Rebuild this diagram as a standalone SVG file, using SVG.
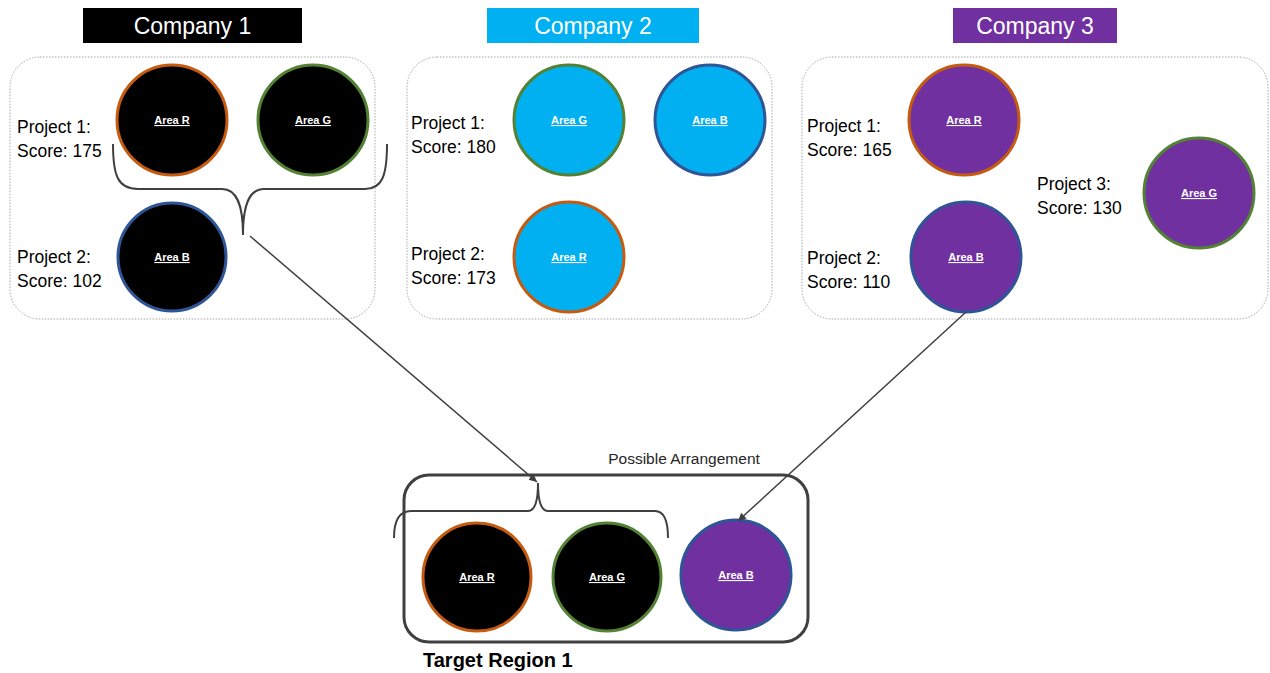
<svg xmlns="http://www.w3.org/2000/svg" width="1270" height="673" viewBox="0 0 1270 673">
<defs>
<style>
.hdr{font-family:"Liberation Sans",Arial,sans-serif;font-size:23px;fill:#fff;text-anchor:middle}
.lbl{font-family:"Liberation Sans",Arial,sans-serif;font-size:17.5px;fill:#000}
.area{font-family:"Liberation Sans",Arial,sans-serif;font-size:11px;font-weight:bold;fill:#fff;text-anchor:middle;text-decoration:underline}
.box{fill:#fff;stroke:#A6A6A6;stroke-width:1;stroke-dasharray:1.5 1.5}
.r{stroke:#C55A11;stroke-width:3}
.g{stroke:#548235;stroke-width:3}
.b{stroke:#2F5597;stroke-width:3}
.c1{fill:#000}.c2{fill:#00B0F0}.c3{fill:#7030A0}
.brace{fill:none;stroke:#404040;stroke-width:2}
.conn{fill:none;stroke:#404040;stroke-width:1.5}
</style>
<marker id="arr" markerWidth="10" markerHeight="10" refX="8" refY="4" orient="auto" markerUnits="userSpaceOnUse">
<path d="M0,0 L8,4 L0,8 Z" fill="#404040"/>
</marker>
</defs>
<rect width="1270" height="673" fill="#fff"/>

<g id="company1">
<rect x="83" y="8" width="219" height="35" fill="#000"/>
<text class="hdr" x="192.5" y="34">Company 1</text>
<rect class="box" x="10" y="57" width="365" height="262" rx="30"/>
<text class="lbl" x="17" y="133">Project 1:</text>
<text class="lbl" x="17" y="157">Score: 175</text>
<text class="lbl" x="17" y="263">Project 2:</text>
<text class="lbl" x="17" y="287">Score: 102</text>
<g id="c1-r"><circle class="c1 r" cx="172" cy="120" r="55"/><text class="area" x="172" y="124">Area R</text></g>
<g id="c1-g"><circle class="c1 g" cx="313" cy="120" r="55"/><text class="area" x="313" y="124">Area G</text></g>
<g id="c1-b"><circle class="c1 b" cx="172" cy="257" r="54"/><text class="area" x="172" y="261">Area B</text></g>
<path class="brace" d="M113,144 C113,176 118,189 138,189 L222,189 C237,189 243,205 243,235 C243,205 249,189 264,189 L365,189 C382,189 387,176 387,144"/>
</g>

<g id="company2">
<rect x="487" y="8" width="212" height="35" fill="#00B0F0"/>
<text class="hdr" x="593" y="34">Company 2</text>
<rect class="box" x="407" y="57" width="365" height="262" rx="30"/>
<text class="lbl" x="411" y="129">Project 1:</text>
<text class="lbl" x="411" y="153">Score: 180</text>
<text class="lbl" x="411" y="260">Project 2:</text>
<text class="lbl" x="411" y="284">Score: 173</text>
<g id="c2-g"><circle class="c2 g" cx="569" cy="120" r="55"/><text class="area" x="569" y="124">Area G</text></g>
<g id="c2-b"><circle class="c2 b" cx="710" cy="120" r="55"/><text class="area" x="710" y="124">Area B</text></g>
<g id="c2-r"><circle class="c2 r" cx="569" cy="257" r="55"/><text class="area" x="569" y="261">Area R</text></g>
</g>

<g id="company3">
<rect x="953" y="8" width="164" height="35" fill="#7030A0"/>
<text class="hdr" x="1035" y="34">Company 3</text>
<rect class="box" x="802" y="57" width="466" height="262" rx="30"/>
<text class="lbl" x="807" y="132">Project 1:</text>
<text class="lbl" x="807" y="156">Score: 165</text>
<text class="lbl" x="807" y="264">Project 2:</text>
<text class="lbl" x="807" y="288">Score: 110</text>
<text class="lbl" x="1037" y="190">Project 3:</text>
<text class="lbl" x="1037" y="214">Score: 130</text>
<g id="c3-r"><circle class="c3 r" cx="964" cy="120" r="55"/><text class="area" x="964" y="124">Area R</text></g>
<g id="c3-b"><circle class="c3 b" cx="966" cy="257" r="55"/><text class="area" x="966" y="261">Area B</text></g>
<g id="c3-g"><circle class="c3 g" cx="1199" cy="193" r="55"/><text class="area" x="1199" y="197">Area G</text></g>
</g>

<g id="target">
<text x="684" y="464" font-family="Liberation Sans,Arial,sans-serif" font-size="15.5" fill="#262626" text-anchor="middle">Possible Arrangement</text>
<rect x="404" y="475" width="404" height="167" rx="25" fill="none" stroke="#404040" stroke-width="3"/>
<g id="t-r"><circle class="c1 r" cx="477" cy="577" r="54"/><text class="area" x="477" y="581">Area R</text></g>
<g id="t-g"><circle class="c1 g" cx="607" cy="577" r="54"/><text class="area" x="607" y="581">Area G</text></g>
<g id="t-b"><circle class="c3 b" cx="736" cy="575" r="55"/><text class="area" x="736" y="579">Area B</text></g>
<path class="brace" d="M394,538 C394,520 399,511 411,511 L528,511 C535,511 538,500 538,483 C538,500 541,511 548,511 L655,511 C664,511 668,520 668,538"/>
<text x="423" y="667" font-family="Liberation Sans,Arial,sans-serif" font-size="20" font-weight="bold" fill="#000">Target Region 1</text>
</g>

<g id="connectors">
<line class="conn" x1="250" y1="236" x2="537" y2="482" marker-end="url(#arr)"/>
<line class="conn" x1="966" y1="312" x2="738" y2="521" marker-end="url(#arr)"/>
</g>
</svg>
